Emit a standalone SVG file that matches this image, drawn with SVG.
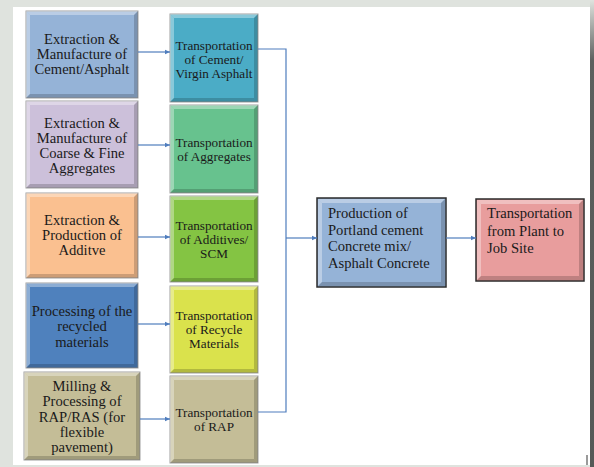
<svg xmlns="http://www.w3.org/2000/svg" width="594" height="467" viewBox="0 0 594 467">
<defs>
<marker id="ah" markerWidth="6" markerHeight="6" refX="5" refY="3" orient="auto" markerUnits="userSpaceOnUse">
<path d="M0,0.8 L5,3 L0,5.2 Z" fill="#4f7dbd"/>
</marker>
<linearGradient id="bar" x1="0" y1="0" x2="0" y2="1">
<stop offset="0" stop-color="#dfe3de"/>
<stop offset="0.13" stop-color="#5c605e"/>
<stop offset="1" stop-color="#555957"/>
</linearGradient>
</defs>
<style>
.bx{stroke:#a0a0a0;stroke-width:1}
.bd{stroke:#2b2b2b;stroke-width:1.5}
.hl{fill:#ffffff;fill-opacity:0.35}
.sh{fill:#000000;fill-opacity:0.18}
.t{font-family:"Liberation Serif","Times New Roman",serif;font-size:14.6px;fill:#1a1a1a;text-anchor:middle}
.tm{font-family:"Liberation Serif","Times New Roman",serif;font-size:13.2px;fill:#1a1a1a;text-anchor:middle}
.tl{font-family:"Liberation Serif","Times New Roman",serif;font-size:14.6px;fill:#1a1a1a}
.c{fill:none;stroke:#4f7dbd;stroke-width:1.2}
</style>
<rect x="0" y="0" width="594" height="467" fill="#dfe3de"/>
<rect x="13" y="7" width="577" height="458" fill="#ffffff"/>
<rect x="590" y="0" width="4" height="467" fill="url(#bar)"/>
<rect x="586" y="455" width="2" height="10" fill="#9a9a9a"/>

<g id="left1">
<rect class="bx" x="26" y="11" width="112" height="87" fill="#95b3d7"/>
<polygon class="hl" points="26,11 138,11 134,15 30,15"/><polygon class="hl" points="26,11 30,15 30,94 26,98"/>
<polygon class="sh" points="138,11 138,98 134,94 134,15"/><polygon class="sh" points="26,98 138,98 134,94 30,94"/>
<text class="t" x="82" y="44">Extraction &amp;</text><text class="t" x="82" y="59">Manufacture of</text><text class="t" x="82" y="74">Cement/Asphalt</text>
</g>
<g id="left2">
<rect class="bx" x="26" y="101" width="112" height="87" fill="#ccc0da"/>
<polygon class="hl" points="26,101 138,101 134,105 30,105"/><polygon class="hl" points="26,101 30,105 30,184 26,188"/>
<polygon class="sh" points="138,101 138,188 134,184 134,105"/><polygon class="sh" points="26,188 138,188 134,184 30,184"/>
<text class="t" x="82" y="128">Extraction &amp;</text><text class="t" x="82" y="143">Manufacture of</text><text class="t" x="82" y="158">Coarse &amp; Fine</text><text class="t" x="82" y="173">Aggregates</text>
</g>
<g id="left3">
<rect class="bx" x="26" y="193" width="112" height="85" fill="#fac090"/>
<polygon class="hl" points="26,193 138,193 134,197 30,197"/><polygon class="hl" points="26,193 30,197 30,274 26,278"/>
<polygon class="sh" points="138,193 138,278 134,274 134,197"/><polygon class="sh" points="26,278 138,278 134,274 30,274"/>
<text class="t" x="82" y="225">Extraction &amp;</text><text class="t" x="82" y="240">Production of</text><text class="t" x="82" y="255">Additve</text>
</g>
<g id="left4">
<rect class="bx" x="26" y="283" width="112" height="85" fill="#4f81bd"/>
<polygon class="hl" points="26,283 138,283 134,287 30,287"/><polygon class="hl" points="26,283 30,287 30,364 26,368"/>
<polygon class="sh" points="138,283 138,368 134,364 134,287"/><polygon class="sh" points="26,368 138,368 134,364 30,364"/>
<text class="t" x="82" y="316">Processing of the</text><text class="t" x="82" y="331">recycled</text><text class="t" x="82" y="347">materials</text>
</g>
<g id="left5">
<rect class="bx" x="24" y="372" width="116" height="88" fill="#c4bd97"/>
<polygon class="hl" points="24,372 140,372 136,376 28,376"/><polygon class="hl" points="24,372 28,376 28,456 24,460"/>
<polygon class="sh" points="140,372 140,460 136,456 136,376"/><polygon class="sh" points="24,460 140,460 136,456 28,456"/>
<text class="t" x="82" y="391">Milling &amp;</text><text class="t" x="82" y="406">Processing of</text><text class="t" x="82" y="422">RAP/RAS (for</text><text class="t" x="82" y="437">flexible</text><text class="t" x="82" y="452">pavement)</text>
</g>

<g id="mid1">
<rect class="bx" x="170" y="14" width="88" height="88" fill="#4bacc6"/>
<polygon class="hl" points="170,14 258,14 254,18 174,18"/><polygon class="hl" points="170,14 174,18 174,98 170,102"/>
<polygon class="sh" points="258,14 258,102 254,98 254,18"/><polygon class="sh" points="170,102 258,102 254,98 174,98"/>
<text class="tm" x="214" y="50">Transportation</text><text class="tm" x="214" y="64">of Cement/</text><text class="tm" x="214" y="78">Virgin Asphalt</text>
</g>
<g id="mid2">
<rect class="bx" x="170" y="105" width="88" height="88" fill="#67c28e"/>
<polygon class="hl" points="170,105 258,105 254,109 174,109"/><polygon class="hl" points="170,105 174,109 174,189 170,193"/>
<polygon class="sh" points="258,105 258,193 254,189 254,109"/><polygon class="sh" points="170,193 258,193 254,189 174,189"/>
<text class="tm" x="214" y="147">Transportation</text><text class="tm" x="214" y="161">of Aggregates</text>
</g>
<g id="mid3">
<rect class="bx" x="170" y="196" width="88" height="86" fill="#84c443"/>
<polygon class="hl" points="170,196 258,196 254,200 174,200"/><polygon class="hl" points="170,196 174,200 174,278 170,282"/>
<polygon class="sh" points="258,196 258,282 254,278 254,200"/><polygon class="sh" points="170,282 258,282 254,278 174,278"/>
<text class="tm" x="214" y="230">Transportation</text><text class="tm" x="214" y="244">of Additives/</text><text class="tm" x="214" y="258">SCM</text>
</g>
<g id="mid4">
<rect class="bx" x="170" y="286" width="88" height="87" fill="#dae24c"/>
<polygon class="hl" points="170,286 258,286 254,290 174,290"/><polygon class="hl" points="170,286 174,290 174,369 170,373"/>
<polygon class="sh" points="258,286 258,373 254,369 254,290"/><polygon class="sh" points="170,373 258,373 254,369 174,369"/>
<text class="tm" x="214" y="320">Transportation</text><text class="tm" x="214" y="334">of Recycle</text><text class="tm" x="214" y="348">Materials</text>
</g>
<g id="mid5">
<rect class="bx" x="170" y="376" width="88" height="87" fill="#c4bd97"/>
<polygon class="hl" points="170,376 258,376 254,380 174,380"/><polygon class="hl" points="170,376 174,380 174,459 170,463"/>
<polygon class="sh" points="258,376 258,463 254,459 254,380"/><polygon class="sh" points="170,463 258,463 254,459 174,459"/>
<text class="tm" x="214" y="417">Transportation</text><text class="tm" x="214" y="431">of RAP</text>
</g>

<g id="production">
<rect class="bd" x="317" y="198" width="129" height="89" fill="#95b3d7"/>
<polygon class="hl" points="318,199 445,199 441,203 322,203"/><polygon class="hl" points="318,199 322,203 322,282 318,286"/>
<polygon class="sh" points="445,199 445,286 441,282 441,203"/><polygon class="sh" points="318,286 445,286 441,282 322,282"/>
<text class="tl" x="328" y="218">Production of</text><text class="tl" x="328" y="235">Portland cement</text><text class="tl" x="328" y="251">Concrete mix/</text><text class="tl" x="328" y="268">Asphalt Concrete</text>
</g>
<g id="transport">
<rect class="bd" x="476" y="199" width="108" height="82" fill="#e89d9d"/>
<polygon class="hl" points="477,200 583,200 579,204 481,204"/><polygon class="hl" points="477,200 481,204 481,276 477,280"/>
<polygon class="sh" points="583,200 583,280 579,276 579,204"/><polygon class="sh" points="477,280 583,280 579,276 481,276"/>
<text class="tl" x="487" y="218">Transportation</text><text class="tl" x="487" y="236">from Plant to</text><text class="tl" x="487" y="253">Job Site</text>
</g>

<g id="connectors">
<line class="c" x1="138" y1="52" x2="170" y2="52" marker-end="url(#ah)"/>
<line class="c" x1="138" y1="145" x2="170" y2="145" marker-end="url(#ah)"/>
<line class="c" x1="138" y1="237" x2="170" y2="237" marker-end="url(#ah)"/>
<line class="c" x1="138" y1="324" x2="170" y2="324" marker-end="url(#ah)"/>
<line class="c" x1="140" y1="419" x2="170" y2="419" marker-end="url(#ah)"/>
<polyline class="c" points="258,49 286,49 286,412 258,412"/>
<line class="c" x1="286" y1="238" x2="317" y2="238" marker-end="url(#ah)"/>
<line class="c" x1="446" y1="238" x2="476" y2="238" marker-end="url(#ah)"/>
</g>
</svg>
